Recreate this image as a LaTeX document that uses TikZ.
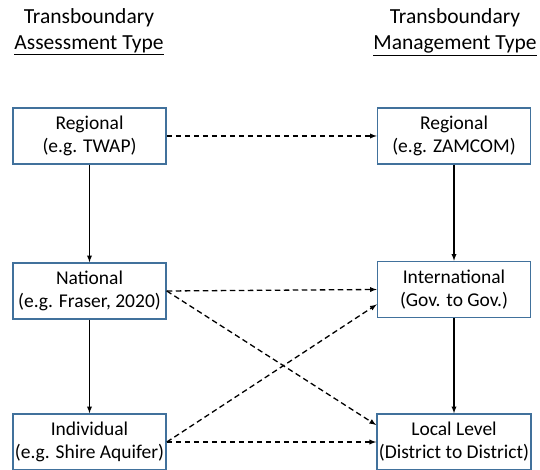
\documentclass[tikz,border=0pt]{standalone}
\usepackage{fontspec}
\setmainfont{Carlito}
\usetikzlibrary{arrows}
\definecolor{boxblue}{RGB}{65,113,156}

\begin{document}
\begin{tikzpicture}[x=1pt, y=1pt, >=latex,
        box/.style={draw=boxblue, line width=1.5pt, minimum width=153pt, minimum height=56pt,
                    inner sep=2pt, align=center, font=\fontsize{19.5}{23}\selectfont},
        head/.style={align=center, font=\fontsize{21.5}{26}\selectfont},
        solid arrow/.style={->, line width=1.3pt},
        dash arrow/.style={->, line width=1.3pt, dash pattern=on 5.5pt off 3.5pt}]
        \useasboundingbox (0,0) rectangle (540,470);
        \node[head] (headA) at (89,438) {Transboundary\\\underline{Assessment Type}};
        \node[head] (headM) at (455,438) {Transboundary\\\underline{Management Type}};

        \node[box] (regA) at (89.5,334) {Regional\\(e.g. TWAP)};
        \node[box] (natA) at (89.5,179) {National\\(e.g. Fraser, 2020)};
        \node[box] (indA) at (89.5,28) {Individual\\(e.g. Shire Aquifer)};

        \node[box] (regM) at (454,334) {Regional\\(e.g. ZAMCOM)};
        \node[box] (intM) at (454,180.5) {International\\(Gov. to Gov.)};
        \node[box] (locM) at (454,28) {Local Level\\(District to District)};

        \draw[solid arrow] (regA) -- (natA);
        \draw[solid arrow] (natA) -- (indA);
        \draw[solid arrow] (regM) -- (intM);
        \draw[solid arrow] (intM) -- (locM);

        \draw[dash arrow] (regA.east) -- (regM.west);
        \draw[dash arrow] (natA.east) -- (intM.west);
        \draw[dash arrow] (natA.east) -- ([yshift=17pt]locM.west);
        \draw[dash arrow] (indA.east) -- ([yshift=-15pt]intM.west);
        \draw[dash arrow] (indA.east) -- (locM.west);
    \end{tikzpicture}
\end{document}
